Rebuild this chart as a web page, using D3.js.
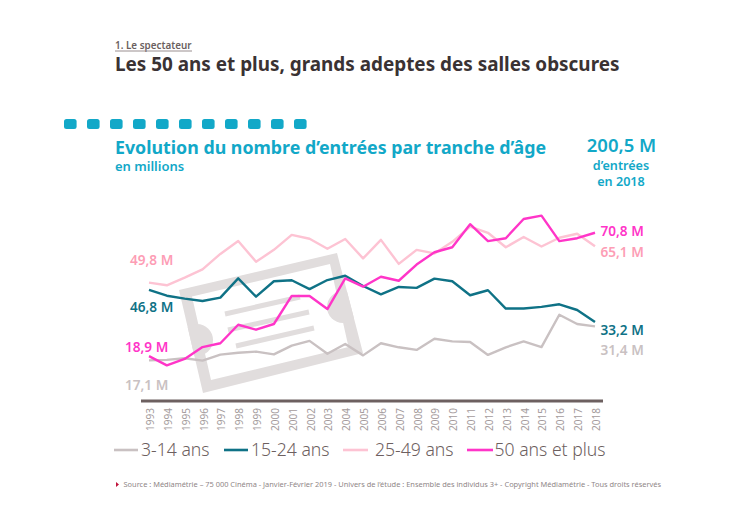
<!DOCTYPE html>
<html><head><meta charset="utf-8">
<script src="https://cdn.jsdelivr.net/npm/d3@7/dist/d3.min.js"></script>
<style>html,body{margin:0;padding:0;background:#fff}svg{display:block}text{font-family:"Noto Sans",sans-serif}</style>
</head><body><svg id="c" width="750" height="523"></svg>
<script>
const years=d3.range(1993,2019);
const kids=[17.1,17.3,18.0,17.0,19.5,20.3,20.8,19.6,23.3,25.3,19.9,24.0,19.2,24.3,22.6,21.5,26.2,25.1,24.8,19.4,22.6,25.1,22.7,36.3,32.4,31.4];
const teens=[46.8,44.3,43.1,42.1,43.5,51.6,43.9,50.4,50.8,47.1,50.9,52.7,48.4,44.9,48.0,47.6,51.5,50.4,44.5,46.6,38.9,38.9,39.6,40.7,38.3,33.2];
const adults=[49.8,48.7,51.9,55.4,61.9,67.3,58.6,63.6,69.9,68.3,64.1,68.2,60.0,67.8,57.7,63.6,62.1,67.0,73.4,70.8,64.7,69.0,65.0,68.7,70.4,65.1];
const seniors=[18.9,15.0,17.7,22.7,24.3,32.1,30.0,32.4,44.2,44.2,38.7,51.6,48.1,52.3,50.6,57.4,62.6,64.7,74.4,67.3,68.5,76.6,78.0,67.3,68.5,70.8];
const seriesNames=["3-14 ans","15-24 ans","25-49 ans","50 ans et plus"];
const seriesColors=["#c9c1c2","#0f7286","#fdc3d3","#ff35c8"];
const seriesData=[kids,teens,adults,seniors];
const startLabels=["17,1 M","46,8 M","49,8 M","18,9 M"];
const endLabels=["31,4 M","33,2 M","65,1 M","70,8 M"];
const labelColors=["#c9c1c2","#0f7286","#fd9db5","#ff35c8"];
const dotCount=d3.range(11);

const svg=d3.select("#c");
const x=d3.scalePoint().domain(years).range([149,595]);
const y=d3.scaleLinear().domain([0,80]).range([401,210.9]);

function T(s,px,py,size,fill,weight,anchor){
  return svg.append("text").attr("x",px).attr("y",py).attr("font-size",size).attr("fill",fill)
    .attr("font-weight",weight||400).attr("text-anchor",anchor||"start").text(s);
}
T("1. Le spectateur",115,48.5,9.9,"#6b5f60",600);
svg.append("line").attr("x1",115).attr("x2",192).attr("y1",51).attr("y2",51).attr("stroke","#9a8f90").attr("stroke-width",1);
T("Les 50 ans et plus, grands adeptes des salles obscures",115,71,18.9,"#3a3233",700);
svg.selectAll("rect.dot").data(dotCount).join("rect").attr("class","dot")
  .attr("x",i=>64+i*23).attr("y",119).attr("width",12.6).attr("height",10).attr("rx",2.5).attr("fill","#12a8c8");
T("Evolution du nombre d’entrées par tranche d’âge",115,154,17.8,"#12a8c8",700);
T("en millions",115,170.5,13,"#12a8c8",600);
T("200,5 M",621.5,152,18.5,"#12a8c8",600,"middle");
T("d’entrées",621,169.5,12.6,"#12a8c8",600,"middle");
T("en 2018",621,185.5,12.6,"#12a8c8",600,"middle");

// ticket watermark
const defs=svg.append("defs");
defs.append("clipPath").attr("id","tk").append("path").attr("d","M179,290L337,253L363,353L203,393Z");
const wm=svg.append("g").attr("fill","#e1dddd");
wm.append("path").attr("fill-rule","evenodd").attr("d","M179,290L337,253L363,353L203,393ZM192,296.5L330,264L348.5,347L211,380Z");
wm.append("circle").attr("cx",197).attr("cy",340).attr("r",16).attr("clip-path","url(#tk)");
wm.append("circle").attr("cx",343).attr("cy",307).attr("r",16).attr("clip-path","url(#tk)");
[[225,314,300,297],[228,330,309,312],[236,346,314,328]].forEach(b=>{
  wm.append("line").attr("x1",b[0]).attr("y1",b[1]).attr("x2",b[2]).attr("y2",b[3]).attr("stroke","#e1dddd").attr("stroke-width",5);
});

// axis
const ax=d3.axisBottom(x).tickSize(0).tickPadding(7);
const g=svg.append("g").attr("transform","translate(0,401)").call(ax);
g.select(".domain").remove();
svg.append("line").attr("x1",141).attr("x2",603).attr("y1",401).attr("y2",401).attr("stroke","#6d6060").attr("stroke-width",3);
g.selectAll("text").attr("font-size",10).attr("fill","#a49b9c").attr("font-family",'"Noto Sans",sans-serif')
  .attr("text-anchor","end").attr("dy","0.35em").attr("x",0).attr("y",0)
  .attr("transform","translate(1,7) rotate(-90)");

const line=d3.line().x((d,i)=>x(years[i])).y(d=>y(d));
[2,0,1,3].forEach(k=>{
  svg.append("path").datum(seriesData[k]).attr("fill","none").attr("stroke",seriesColors[k])
    .attr("stroke-width",2.4).attr("stroke-linejoin","round").attr("d",line);
});

// direct labels
const sx=[125,130,130,125], sy=[390,312,265,352];
startLabels.forEach((s,k)=>T(s,sx[k],sy[k],13.6,labelColors[k],600));
const ey=[355,335,256.5,236];
endLabels.forEach((s,k)=>T(s,600.5,ey[k],13.6,labelColors[k],600));

// legend
const lx=[[114,138],[224,248],[343,368],[467,493]], tx=[141,251,375,494.5];
seriesNames.forEach((s,k)=>{
  svg.append("line").attr("x1",lx[k][0]).attr("x2",lx[k][1]).attr("y1",450).attr("y2",450).attr("stroke",seriesColors[k]).attr("stroke-width",2.6);
  T(s,tx[k],456,17.6,"#6d6060",300);
});
// source
svg.append("path").attr("d","M116,482L119,484.5L116,487Z").attr("fill","#c0143c");
T("Source : Médiamétrie – 75 000 Cinéma - Janvier-Février 2019 - Univers de l’étude : Ensemble des individus 3+ - Copyright Médiamétrie - Tous droits réservés",123.5,487,7.43,"#8f8687");
</script></body></html>
